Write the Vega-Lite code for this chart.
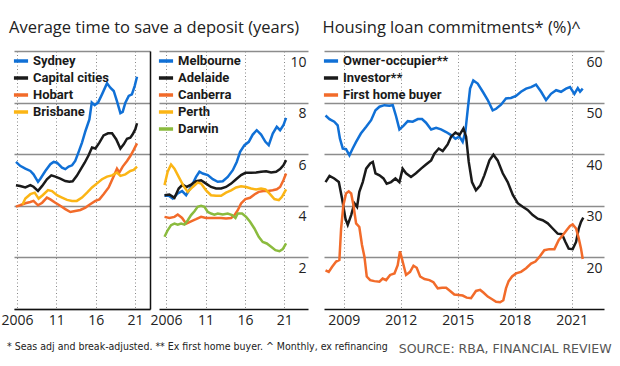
{
  "$schema": "https://vega.github.io/schema/vega-lite/v6.json",
  "padding": {"left": 0, "top": 19, "right": 5, "bottom": 5},
  "background": "white",
  "config": {
    "view": {"stroke": null},
    "font": "Open Sans",
    "axis": {"labelFont": "Open Sans", "labelColor": "#222", "labelFontSize": 14, "title": null},
    "legend": {
      "orient": "none", "legendX": -3, "legendY": 0, "padding": 1,
      "title": null, "symbolType": "stroke", "symbolSize": 200, "symbolStrokeWidth": 3.5,
      "labelFont": "Roboto", "labelFontWeight": "bold", "labelFontSize": 13, "labelColor": "#1a1a1a",
      "labelOffset": 3, "rowPadding": 1
    },
    "title": {"font": "Open Sans", "fontSize": 16.5, "fontWeight": "normal", "color": "#222", "anchor": "start"}
  },
  "title": {"text": "* Seas adj and break-adjusted. ** Ex first home buyer.  ^ Monthly, ex refinancing", "orient": "bottom", "anchor": "start", "font": "DejaVu Sans Condensed, Roboto", "fontSize": 10.5, "color": "#222", "offset": -13, "dx": 6},
  "datasets": {
    "p1": [
      {"s":"Sydney","t":2005.87,"v":5.70},{"s":"Sydney","t":2006.4,"v":5.55},{"s":"Sydney","t":2007.06,"v":5.44},{"s":"Sydney","t":2007.7,"v":5.35},{"s":"Sydney","t":2008.1,"v":5.22},{"s":"Sydney","t":2008.67,"v":4.93},{"s":"Sydney","t":2008.97,"v":5.05},{"s":"Sydney","t":2009.6,"v":5.35},{"s":"Sydney","t":2010.24,"v":5.61},{"s":"Sydney","t":2010.66,"v":5.70},{"s":"Sydney","t":2011.08,"v":5.67},{"s":"Sydney","t":2011.72,"v":5.48},{"s":"Sydney","t":2012.14,"v":5.42},{"s":"Sydney","t":2012.57,"v":5.52},{"s":"Sydney","t":2013.0,"v":5.57},{"s":"Sydney","t":2013.4,"v":5.74},{"s":"Sydney","t":2013.8,"v":6.06},{"s":"Sydney","t":2014.26,"v":6.45},{"s":"Sydney","t":2014.7,"v":6.90},{"s":"Sydney","t":2015.2,"v":7.35},{"s":"Sydney","t":2015.5,"v":8.0},{"s":"Sydney","t":2015.87,"v":7.90},{"s":"Sydney","t":2016.3,"v":8.0},{"s":"Sydney","t":2016.8,"v":8.32},{"s":"Sydney","t":2017.44,"v":8.75},{"s":"Sydney","t":2017.86,"v":8.58},{"s":"Sydney","t":2018.29,"v":8.45},{"s":"Sydney","t":2018.7,"v":8.06},{"s":"Sydney","t":2019.14,"v":7.59},{"s":"Sydney","t":2019.43,"v":7.64},{"s":"Sydney","t":2019.77,"v":8.0},{"s":"Sydney","t":2020.2,"v":8.26},{"s":"Sydney","t":2020.6,"v":8.32},{"s":"Sydney","t":2020.96,"v":8.65},{"s":"Sydney","t":2021.25,"v":9.0},
      {"s":"Capital cities","t":2005.87,"v":4.80},{"s":"Capital cities","t":2006.4,"v":4.77},{"s":"Capital cities","t":2007.06,"v":4.71},{"s":"Capital cities","t":2007.7,"v":4.80},{"s":"Capital cities","t":2008.1,"v":4.74},{"s":"Capital cities","t":2008.67,"v":4.58},{"s":"Capital cities","t":2009.2,"v":4.77},{"s":"Capital cities","t":2009.8,"v":5.03},{"s":"Capital cities","t":2010.36,"v":5.18},{"s":"Capital cities","t":2010.87,"v":5.13},{"s":"Capital cities","t":2011.5,"v":5.05},{"s":"Capital cities","t":2012.14,"v":4.96},{"s":"Capital cities","t":2012.65,"v":4.93},{"s":"Capital cities","t":2013.07,"v":4.95},{"s":"Capital cities","t":2013.6,"v":5.16},{"s":"Capital cities","t":2014.05,"v":5.39},{"s":"Capital cities","t":2014.6,"v":5.67},{"s":"Capital cities","t":2015.1,"v":5.96},{"s":"Capital cities","t":2015.53,"v":6.26},{"s":"Capital cities","t":2015.96,"v":6.22},{"s":"Capital cities","t":2016.47,"v":6.45},{"s":"Capital cities","t":2017.0,"v":6.73},{"s":"Capital cities","t":2017.57,"v":6.81},{"s":"Capital cities","t":2018.08,"v":6.81},{"s":"Capital cities","t":2018.6,"v":6.58},{"s":"Capital cities","t":2019.14,"v":6.22},{"s":"Capital cities","t":2019.56,"v":6.38},{"s":"Capital cities","t":2019.98,"v":6.60},{"s":"Capital cities","t":2020.4,"v":6.64},{"s":"Capital cities","t":2020.7,"v":6.77},{"s":"Capital cities","t":2021.04,"v":6.97},{"s":"Capital cities","t":2021.25,"v":7.20},
      {"s":"Hobart","t":2005.87,"v":3.97},{"s":"Hobart","t":2006.4,"v":4.02},{"s":"Hobart","t":2007.06,"v":4.10},{"s":"Hobart","t":2007.7,"v":4.15},{"s":"Hobart","t":2008.1,"v":4.19},{"s":"Hobart","t":2008.67,"v":4.02},{"s":"Hobart","t":2009.2,"v":4.12},{"s":"Hobart","t":2009.8,"v":4.32},{"s":"Hobart","t":2010.24,"v":4.25},{"s":"Hobart","t":2010.87,"v":4.12},{"s":"Hobart","t":2011.5,"v":4.0},{"s":"Hobart","t":2012.14,"v":3.87},{"s":"Hobart","t":2012.78,"v":3.76},{"s":"Hobart","t":2013.4,"v":3.80},{"s":"Hobart","t":2014.05,"v":3.84},{"s":"Hobart","t":2014.7,"v":3.93},{"s":"Hobart","t":2015.3,"v":4.06},{"s":"Hobart","t":2015.96,"v":4.19},{"s":"Hobart","t":2016.47,"v":4.25},{"s":"Hobart","t":2017.0,"v":4.45},{"s":"Hobart","t":2017.65,"v":4.71},{"s":"Hobart","t":2018.2,"v":5.09},{"s":"Hobart","t":2018.7,"v":5.44},{"s":"Hobart","t":2019.0,"v":5.29},{"s":"Hobart","t":2019.43,"v":5.52},{"s":"Hobart","t":2019.98,"v":5.74},{"s":"Hobart","t":2020.4,"v":5.93},{"s":"Hobart","t":2020.83,"v":6.17},{"s":"Hobart","t":2021.25,"v":6.42},
      {"s":"Brisbane","t":2006.7,"v":4.05},{"s":"Brisbane","t":2007.06,"v":4.28},{"s":"Brisbane","t":2007.7,"v":4.45},{"s":"Brisbane","t":2008.25,"v":4.51},{"s":"Brisbane","t":2008.75,"v":4.28},{"s":"Brisbane","t":2009.26,"v":4.41},{"s":"Brisbane","t":2009.94,"v":4.61},{"s":"Brisbane","t":2010.45,"v":4.57},{"s":"Brisbane","t":2011.08,"v":4.41},{"s":"Brisbane","t":2011.72,"v":4.32},{"s":"Brisbane","t":2012.36,"v":4.23},{"s":"Brisbane","t":2013.0,"v":4.19},{"s":"Brisbane","t":2013.6,"v":4.19},{"s":"Brisbane","t":2014.26,"v":4.32},{"s":"Brisbane","t":2014.9,"v":4.51},{"s":"Brisbane","t":2015.53,"v":4.71},{"s":"Brisbane","t":2016.17,"v":4.87},{"s":"Brisbane","t":2016.8,"v":5.03},{"s":"Brisbane","t":2017.44,"v":5.13},{"s":"Brisbane","t":2018.08,"v":5.18},{"s":"Brisbane","t":2018.7,"v":5.29},{"s":"Brisbane","t":2019.14,"v":5.16},{"s":"Brisbane","t":2019.77,"v":5.22},{"s":"Brisbane","t":2020.4,"v":5.35},{"s":"Brisbane","t":2020.83,"v":5.39},{"s":"Brisbane","t":2021.25,"v":5.52}
    ],
    "p2": [
      {"s":"Melbourne","t":2005.8,"v":4.39},{"s":"Melbourne","t":2006.34,"v":4.39},{"s":"Melbourne","t":2006.85,"v":4.28},{"s":"Melbourne","t":2007.48,"v":4.48},{"s":"Melbourne","t":2008.03,"v":4.57},{"s":"Melbourne","t":2008.54,"v":4.41},{"s":"Melbourne","t":2009.17,"v":4.73},{"s":"Melbourne","t":2009.8,"v":5.12},{"s":"Melbourne","t":2010.23,"v":5.32},{"s":"Melbourne","t":2010.65,"v":5.25},{"s":"Melbourne","t":2011.29,"v":5.19},{"s":"Melbourne","t":2011.92,"v":5.03},{"s":"Melbourne","t":2012.55,"v":4.93},{"s":"Melbourne","t":2013.19,"v":4.95},{"s":"Melbourne","t":2013.82,"v":5.12},{"s":"Melbourne","t":2014.46,"v":5.38},{"s":"Melbourne","t":2014.96,"v":5.70},{"s":"Melbourne","t":2015.39,"v":6.09},{"s":"Melbourne","t":2015.94,"v":6.35},{"s":"Melbourne","t":2016.49,"v":6.48},{"s":"Melbourne","t":2016.99,"v":6.76},{"s":"Melbourne","t":2017.5,"v":6.93},{"s":"Melbourne","t":2018.05,"v":6.76},{"s":"Melbourne","t":2018.6,"v":6.48},{"s":"Melbourne","t":2019.02,"v":6.35},{"s":"Melbourne","t":2019.53,"v":6.80},{"s":"Melbourne","t":2020.04,"v":7.06},{"s":"Melbourne","t":2020.46,"v":6.93},{"s":"Melbourne","t":2020.88,"v":7.12},{"s":"Melbourne","t":2021.22,"v":7.41},
      {"s":"Adelaide","t":2005.8,"v":4.41},{"s":"Adelaide","t":2006.42,"v":4.44},{"s":"Adelaide","t":2007.06,"v":4.31},{"s":"Adelaide","t":2007.6,"v":4.67},{"s":"Adelaide","t":2008.1,"v":4.82},{"s":"Adelaide","t":2008.6,"v":4.73},{"s":"Adelaide","t":2009.17,"v":4.82},{"s":"Adelaide","t":2009.8,"v":4.95},{"s":"Adelaide","t":2010.44,"v":4.99},{"s":"Adelaide","t":2011.07,"v":4.86},{"s":"Adelaide","t":2011.7,"v":4.73},{"s":"Adelaide","t":2012.34,"v":4.67},{"s":"Adelaide","t":2012.98,"v":4.67},{"s":"Adelaide","t":2013.6,"v":4.73},{"s":"Adelaide","t":2014.25,"v":4.86},{"s":"Adelaide","t":2014.88,"v":5.03},{"s":"Adelaide","t":2015.51,"v":5.19},{"s":"Adelaide","t":2016.06,"v":5.28},{"s":"Adelaide","t":2016.78,"v":5.28},{"s":"Adelaide","t":2017.42,"v":5.29},{"s":"Adelaide","t":2018.05,"v":5.32},{"s":"Adelaide","t":2018.69,"v":5.34},{"s":"Adelaide","t":2019.32,"v":5.29},{"s":"Adelaide","t":2019.95,"v":5.32},{"s":"Adelaide","t":2020.46,"v":5.42},{"s":"Adelaide","t":2020.88,"v":5.57},{"s":"Adelaide","t":2021.22,"v":5.77},
      {"s":"Canberra","t":2005.8,"v":3.57},{"s":"Canberra","t":2006.42,"v":3.53},{"s":"Canberra","t":2007.06,"v":3.57},{"s":"Canberra","t":2007.48,"v":3.66},{"s":"Canberra","t":2008.03,"v":3.53},{"s":"Canberra","t":2008.54,"v":3.31},{"s":"Canberra","t":2009.17,"v":3.40},{"s":"Canberra","t":2009.8,"v":3.48},{"s":"Canberra","t":2010.44,"v":3.57},{"s":"Canberra","t":2011.07,"v":3.53},{"s":"Canberra","t":2011.7,"v":3.53},{"s":"Canberra","t":2012.34,"v":3.53},{"s":"Canberra","t":2012.98,"v":3.53},{"s":"Canberra","t":2013.6,"v":3.51},{"s":"Canberra","t":2014.25,"v":3.53},{"s":"Canberra","t":2014.67,"v":3.64},{"s":"Canberra","t":2015.09,"v":3.83},{"s":"Canberra","t":2015.51,"v":4.09},{"s":"Canberra","t":2016.06,"v":4.26},{"s":"Canberra","t":2016.65,"v":4.31},{"s":"Canberra","t":2017.2,"v":4.44},{"s":"Canberra","t":2017.75,"v":4.54},{"s":"Canberra","t":2018.35,"v":4.57},{"s":"Canberra","t":2018.9,"v":4.57},{"s":"Canberra","t":2019.53,"v":4.60},{"s":"Canberra","t":2020.04,"v":4.64},{"s":"Canberra","t":2020.46,"v":4.73},{"s":"Canberra","t":2020.88,"v":4.99},{"s":"Canberra","t":2021.22,"v":5.25},
      {"s":"Perth","t":2005.8,"v":4.80},{"s":"Perth","t":2006.2,"v":5.32},{"s":"Perth","t":2006.63,"v":5.60},{"s":"Perth","t":2007.06,"v":5.44},{"s":"Perth","t":2007.6,"v":5.12},{"s":"Perth","t":2008.2,"v":4.77},{"s":"Perth","t":2008.75,"v":4.54},{"s":"Perth","t":2009.38,"v":4.73},{"s":"Perth","t":2010.0,"v":4.90},{"s":"Perth","t":2010.44,"v":4.86},{"s":"Perth","t":2011.07,"v":4.60},{"s":"Perth","t":2011.7,"v":4.41},{"s":"Perth","t":2012.34,"v":4.39},{"s":"Perth","t":2012.98,"v":4.39},{"s":"Perth","t":2013.6,"v":4.51},{"s":"Perth","t":2014.25,"v":4.60},{"s":"Perth","t":2014.88,"v":4.71},{"s":"Perth","t":2015.51,"v":4.76},{"s":"Perth","t":2016.15,"v":4.73},{"s":"Perth","t":2016.78,"v":4.67},{"s":"Perth","t":2017.42,"v":4.63},{"s":"Perth","t":2018.05,"v":4.67},{"s":"Perth","t":2018.6,"v":4.64},{"s":"Perth","t":2019.1,"v":4.48},{"s":"Perth","t":2019.74,"v":4.26},{"s":"Perth","t":2020.3,"v":4.22},{"s":"Perth","t":2020.7,"v":4.35},{"s":"Perth","t":2021.22,"v":4.64},
      {"s":"Darwin","t":2005.8,"v":2.80},{"s":"Darwin","t":2006.2,"v":3.05},{"s":"Darwin","t":2006.63,"v":3.25},{"s":"Darwin","t":2007.06,"v":3.31},{"s":"Darwin","t":2007.48,"v":3.27},{"s":"Darwin","t":2007.9,"v":3.31},{"s":"Darwin","t":2008.33,"v":3.27},{"s":"Darwin","t":2008.75,"v":3.44},{"s":"Darwin","t":2009.17,"v":3.64},{"s":"Darwin","t":2009.6,"v":3.79},{"s":"Darwin","t":2010.0,"v":3.96},{"s":"Darwin","t":2010.44,"v":4.0},{"s":"Darwin","t":2010.86,"v":3.96},{"s":"Darwin","t":2011.29,"v":3.76},{"s":"Darwin","t":2011.7,"v":3.70},{"s":"Darwin","t":2012.13,"v":3.66},{"s":"Darwin","t":2012.55,"v":3.70},{"s":"Darwin","t":2013.19,"v":3.66},{"s":"Darwin","t":2013.82,"v":3.70},{"s":"Darwin","t":2014.37,"v":3.64},{"s":"Darwin","t":2014.8,"v":3.53},{"s":"Darwin","t":2015.09,"v":3.70},{"s":"Darwin","t":2015.64,"v":3.70},{"s":"Darwin","t":2016.15,"v":3.57},{"s":"Darwin","t":2016.65,"v":3.38},{"s":"Darwin","t":2017.2,"v":3.12},{"s":"Darwin","t":2017.75,"v":2.80},{"s":"Darwin","t":2018.26,"v":2.60},{"s":"Darwin","t":2018.77,"v":2.54},{"s":"Darwin","t":2019.32,"v":2.41},{"s":"Darwin","t":2019.87,"v":2.28},{"s":"Darwin","t":2020.38,"v":2.24},{"s":"Darwin","t":2020.8,"v":2.32},{"s":"Darwin","t":2021.22,"v":2.54}
    ],
    "p3": [
      {"s":"Owner-occupier**","t":2008.04,"v":47.5},{"s":"Owner-occupier**","t":2008.25,"v":46.8},{"s":"Owner-occupier**","t":2008.5,"v":46.3},{"s":"Owner-occupier**","t":2008.68,"v":45.6},{"s":"Owner-occupier**","t":2008.8,"v":43.0},{"s":"Owner-occupier**","t":2008.95,"v":41.1},{"s":"Owner-occupier**","t":2009.12,"v":41.0},{"s":"Owner-occupier**","t":2009.3,"v":39.8},{"s":"Owner-occupier**","t":2009.47,"v":41.1},{"s":"Owner-occupier**","t":2009.65,"v":42.4},{"s":"Owner-occupier**","t":2009.9,"v":44.0},{"s":"Owner-occupier**","t":2010.18,"v":45.3},{"s":"Owner-occupier**","t":2010.44,"v":46.6},{"s":"Owner-occupier**","t":2010.67,"v":48.5},{"s":"Owner-occupier**","t":2010.88,"v":49.2},{"s":"Owner-occupier**","t":2011.14,"v":49.5},{"s":"Owner-occupier**","t":2011.4,"v":49.4},{"s":"Owner-occupier**","t":2011.58,"v":49.5},{"s":"Owner-occupier**","t":2011.75,"v":47.4},{"s":"Owner-occupier**","t":2011.93,"v":44.8},{"s":"Owner-occupier**","t":2012.14,"v":45.5},{"s":"Owner-occupier**","t":2012.37,"v":46.4},{"s":"Owner-occupier**","t":2012.63,"v":46.3},{"s":"Owner-occupier**","t":2012.9,"v":46.8},{"s":"Owner-occupier**","t":2013.12,"v":46.8},{"s":"Owner-occupier**","t":2013.33,"v":46.1},{"s":"Owner-occupier**","t":2013.6,"v":44.8},{"s":"Owner-occupier**","t":2013.86,"v":45.1},{"s":"Owner-occupier**","t":2014.12,"v":44.8},{"s":"Owner-occupier**","t":2014.39,"v":44.3},{"s":"Owner-occupier**","t":2014.65,"v":43.7},{"s":"Owner-occupier**","t":2014.88,"v":43.0},{"s":"Owner-occupier**","t":2015.09,"v":43.4},{"s":"Owner-occupier**","t":2015.26,"v":42.4},{"s":"Owner-occupier**","t":2015.4,"v":44.3},{"s":"Owner-occupier**","t":2015.53,"v":48.8},{"s":"Owner-occupier**","t":2015.65,"v":52.7},{"s":"Owner-occupier**","t":2015.82,"v":54.3},{"s":"Owner-occupier**","t":2016.05,"v":53.7},{"s":"Owner-occupier**","t":2016.32,"v":52.1},{"s":"Owner-occupier**","t":2016.58,"v":50.5},{"s":"Owner-occupier**","t":2016.84,"v":48.5},{"s":"Owner-occupier**","t":2017.02,"v":48.8},{"s":"Owner-occupier**","t":2017.28,"v":49.6},{"s":"Owner-occupier**","t":2017.54,"v":50.8},{"s":"Owner-occupier**","t":2017.8,"v":50.9},{"s":"Owner-occupier**","t":2018.07,"v":51.3},{"s":"Owner-occupier**","t":2018.33,"v":52.1},{"s":"Owner-occupier**","t":2018.6,"v":52.7},{"s":"Owner-occupier**","t":2018.86,"v":53.0},{"s":"Owner-occupier**","t":2019.12,"v":53.5},{"s":"Owner-occupier**","t":2019.39,"v":52.1},{"s":"Owner-occupier**","t":2019.65,"v":50.5},{"s":"Owner-occupier**","t":2019.91,"v":51.7},{"s":"Owner-occupier**","t":2020.18,"v":52.4},{"s":"Owner-occupier**","t":2020.44,"v":52.1},{"s":"Owner-occupier**","t":2020.7,"v":52.7},{"s":"Owner-occupier**","t":2020.91,"v":53.0},{"s":"Owner-occupier**","t":2021.14,"v":51.7},{"s":"Owner-occupier**","t":2021.32,"v":52.8},{"s":"Owner-occupier**","t":2021.44,"v":52.1},{"s":"Owner-occupier**","t":2021.58,"v":52.7},
      {"s":"Investor**","t":2008.04,"v":34.6},{"s":"Investor**","t":2008.25,"v":35.8},{"s":"Investor**","t":2008.5,"v":35.3},{"s":"Investor**","t":2008.74,"v":34.6},{"s":"Investor**","t":2008.91,"v":31.4},{"s":"Investor**","t":2009.09,"v":27.5},{"s":"Investor**","t":2009.21,"v":26.3},{"s":"Investor**","t":2009.39,"v":28.2},{"s":"Investor**","t":2009.56,"v":30.5},{"s":"Investor**","t":2009.7,"v":29.8},{"s":"Investor**","t":2009.82,"v":32.7},{"s":"Investor**","t":2010.0,"v":34.6},{"s":"Investor**","t":2010.18,"v":37.2},{"s":"Investor**","t":2010.39,"v":38.2},{"s":"Investor**","t":2010.53,"v":38.5},{"s":"Investor**","t":2010.67,"v":36.3},{"s":"Investor**","t":2010.88,"v":35.9},{"s":"Investor**","t":2011.09,"v":35.3},{"s":"Investor**","t":2011.26,"v":34.3},{"s":"Investor**","t":2011.49,"v":34.6},{"s":"Investor**","t":2011.72,"v":35.3},{"s":"Investor**","t":2011.93,"v":34.6},{"s":"Investor**","t":2012.1,"v":37.2},{"s":"Investor**","t":2012.28,"v":36.3},{"s":"Investor**","t":2012.54,"v":35.6},{"s":"Investor**","t":2012.8,"v":36.3},{"s":"Investor**","t":2013.07,"v":37.2},{"s":"Investor**","t":2013.33,"v":38.0},{"s":"Investor**","t":2013.6,"v":38.8},{"s":"Investor**","t":2013.77,"v":40.1},{"s":"Investor**","t":2014.0,"v":41.1},{"s":"Investor**","t":2014.21,"v":40.6},{"s":"Investor**","t":2014.47,"v":41.9},{"s":"Investor**","t":2014.65,"v":43.4},{"s":"Investor**","t":2014.88,"v":44.2},{"s":"Investor**","t":2015.09,"v":43.7},{"s":"Investor**","t":2015.3,"v":45.0},{"s":"Investor**","t":2015.44,"v":43.4},{"s":"Investor**","t":2015.58,"v":38.5},{"s":"Investor**","t":2015.75,"v":34.6},{"s":"Investor**","t":2015.96,"v":33.0},{"s":"Investor**","t":2016.18,"v":33.9},{"s":"Investor**","t":2016.4,"v":35.9},{"s":"Investor**","t":2016.67,"v":38.8},{"s":"Investor**","t":2016.88,"v":39.9},{"s":"Investor**","t":2017.1,"v":38.8},{"s":"Investor**","t":2017.37,"v":36.3},{"s":"Investor**","t":2017.63,"v":34.6},{"s":"Investor**","t":2017.9,"v":32.1},{"s":"Investor**","t":2018.16,"v":30.5},{"s":"Investor**","t":2018.42,"v":29.8},{"s":"Investor**","t":2018.68,"v":29.2},{"s":"Investor**","t":2018.95,"v":28.2},{"s":"Investor**","t":2019.21,"v":27.5},{"s":"Investor**","t":2019.47,"v":27.2},{"s":"Investor**","t":2019.74,"v":26.6},{"s":"Investor**","t":2020.0,"v":25.6},{"s":"Investor**","t":2020.26,"v":24.6},{"s":"Investor**","t":2020.49,"v":24.5},{"s":"Investor**","t":2020.67,"v":23.0},{"s":"Investor**","t":2020.84,"v":21.7},{"s":"Investor**","t":2021.05,"v":21.6},{"s":"Investor**","t":2021.23,"v":23.0},{"s":"Investor**","t":2021.37,"v":25.6},{"s":"Investor**","t":2021.49,"v":26.9},{"s":"Investor**","t":2021.61,"v":27.7},
      {"s":"First home buyer","t":2008.04,"v":17.5},{"s":"First home buyer","t":2008.21,"v":17.2},{"s":"First home buyer","t":2008.39,"v":18.2},{"s":"First home buyer","t":2008.6,"v":19.2},{"s":"First home buyer","t":2008.77,"v":19.5},{"s":"First home buyer","t":2008.86,"v":25.6},{"s":"First home buyer","t":2008.98,"v":30.1},{"s":"First home buyer","t":2009.12,"v":32.4},{"s":"First home buyer","t":2009.26,"v":32.8},{"s":"First home buyer","t":2009.39,"v":32.4},{"s":"First home buyer","t":2009.51,"v":30.1},{"s":"First home buyer","t":2009.65,"v":26.6},{"s":"First home buyer","t":2009.82,"v":25.9},{"s":"First home buyer","t":2009.96,"v":22.4},{"s":"First home buyer","t":2010.09,"v":20.1},{"s":"First home buyer","t":2010.21,"v":16.3},{"s":"First home buyer","t":2010.39,"v":15.6},{"s":"First home buyer","t":2010.61,"v":15.4},{"s":"First home buyer","t":2010.88,"v":15.3},{"s":"First home buyer","t":2011.05,"v":15.9},{"s":"First home buyer","t":2011.23,"v":15.6},{"s":"First home buyer","t":2011.44,"v":16.6},{"s":"First home buyer","t":2011.67,"v":16.9},{"s":"First home buyer","t":2011.84,"v":18.5},{"s":"First home buyer","t":2011.96,"v":21.2},{"s":"First home buyer","t":2012.1,"v":19.2},{"s":"First home buyer","t":2012.28,"v":16.6},{"s":"First home buyer","t":2012.49,"v":17.2},{"s":"First home buyer","t":2012.67,"v":18.4},{"s":"First home buyer","t":2012.84,"v":18.0},{"s":"First home buyer","t":2013.02,"v":16.3},{"s":"First home buyer","t":2013.25,"v":15.8},{"s":"First home buyer","t":2013.51,"v":15.6},{"s":"First home buyer","t":2013.72,"v":15.2},{"s":"First home buyer","t":2013.95,"v":14.0},{"s":"First home buyer","t":2014.18,"v":14.1},{"s":"First home buyer","t":2014.39,"v":14.1},{"s":"First home buyer","t":2014.6,"v":13.5},{"s":"First home buyer","t":2014.82,"v":12.8},{"s":"First home buyer","t":2015.05,"v":12.7},{"s":"First home buyer","t":2015.26,"v":12.6},{"s":"First home buyer","t":2015.47,"v":12.2},{"s":"First home buyer","t":2015.7,"v":12.1},{"s":"First home buyer","t":2015.96,"v":13.5},{"s":"First home buyer","t":2016.18,"v":13.7},{"s":"First home buyer","t":2016.35,"v":13.2},{"s":"First home buyer","t":2016.58,"v":12.4},{"s":"First home buyer","t":2016.81,"v":11.9},{"s":"First home buyer","t":2017.02,"v":11.4},{"s":"First home buyer","t":2017.23,"v":11.3},{"s":"First home buyer","t":2017.4,"v":11.7},{"s":"First home buyer","t":2017.54,"v":14.0},{"s":"First home buyer","t":2017.68,"v":15.4},{"s":"First home buyer","t":2017.86,"v":16.3},{"s":"First home buyer","t":2018.07,"v":16.9},{"s":"First home buyer","t":2018.33,"v":17.2},{"s":"First home buyer","t":2018.6,"v":17.9},{"s":"First home buyer","t":2018.86,"v":18.8},{"s":"First home buyer","t":2019.09,"v":19.2},{"s":"First home buyer","t":2019.3,"v":20.1},{"s":"First home buyer","t":2019.56,"v":21.4},{"s":"First home buyer","t":2019.82,"v":21.6},{"s":"First home buyer","t":2020.09,"v":21.6},{"s":"First home buyer","t":2020.32,"v":23.4},{"s":"First home buyer","t":2020.53,"v":24.3},{"s":"First home buyer","t":2020.74,"v":25.3},{"s":"First home buyer","t":2020.91,"v":26.1},{"s":"First home buyer","t":2021.05,"v":26.4},{"s":"First home buyer","t":2021.23,"v":25.6},{"s":"First home buyer","t":2021.37,"v":23.7},{"s":"First home buyer","t":2021.49,"v":21.7},{"s":"First home buyer","t":2021.58,"v":19.7}
    ]
  },
  "spacing": 12,
  "resolve": {"scale": {"color": "independent"}},
  "hconcat": [
    {
      "title": {"text": "Average time to save a deposit (years)", "offset": 15, "dx": 8},
      "spacing": 0,
      "resolve": {"scale": {"color": "independent"}},
      "hconcat": [
        {
          "width": 136, "height": 258,
          "data": {"name": "p1"},
          "mark": {"type": "line", "strokeWidth": 2.5},
          "encoding": {
            "x": {"field": "t", "type": "quantitative", "scale": {"domain": [2005.62, 2022.9], "nice": false, "zero": false},
              "axis": {"values": [2006, 2011, 2016, 2021], "format": "d", "labelExpr": "datum.value == 2006 ? datum.label : substring(datum.label, 2)", "domainColor": "#111", "domainWidth": 1.5, "ticks": false, "labelPadding": 4, "grid": true, "gridColor": "#888", "gridDash": [1, 2.5], "gridWidth": 1, "labelFlush": false}},
            "y": {"field": "v", "type": "quantitative", "scale": {"domain": [0, 10], "nice": false},
              "axis": {"orient": "right", "values": [0, 2, 4, 6, 8, 10], "labels": false, "ticks": false, "domain": true, "domainColor": "#111", "domainWidth": 1.5, "grid": true, "gridColor": "#8c8c8c", "gridWidth": 1.5}},
            "color": {"field": "s", "type": "nominal", "sort": ["Sydney", "Capital cities", "Hobart", "Brisbane"],
              "scale": {"domain": ["Sydney", "Capital cities", "Hobart", "Brisbane"], "range": ["#1070d6", "#1a1a1a", "#f26b2a", "#fbb515"]}}
          }
        },
        {
          "width": 149, "height": 258,
          "data": {"name": "p2"},
          "mark": {"type": "line", "strokeWidth": 2.5},
          "encoding": {
            "x": {"field": "t", "type": "quantitative", "scale": {"domain": [2005.1, 2024.0], "nice": false, "zero": false},
              "axis": {"values": [2006, 2011, 2016, 2021], "format": "d", "labelExpr": "datum.value == 2006 ? datum.label : substring(datum.label, 2)", "domainColor": "#111", "domainWidth": 1.5, "ticks": false, "labelPadding": 4, "grid": true, "gridColor": "#888", "gridDash": [1, 2.5], "gridWidth": 1, "labelFlush": false}},
            "y": {"field": "v", "type": "quantitative", "scale": {"domain": [0, 10], "nice": false},
              "axis": {"orient": "right", "values": [2, 4, 6, 8, 10], "ticks": false, "domain": false, "grid": true, "gridColor": "#8c8c8c", "gridWidth": 1.5, "labelAlign": "right", "labelBaseline": "top", "labelPadding": -2, "labelOffset": 4}},
            "color": {"field": "s", "type": "nominal", "sort": ["Melbourne", "Adelaide", "Canberra", "Perth", "Darwin"],
              "scale": {"domain": ["Melbourne", "Adelaide", "Canberra", "Perth", "Darwin"], "range": ["#1070d6", "#1a1a1a", "#f26b2a", "#fbb515", "#8bbb3e"]}}
          }
        }
      ]
    },
    {
      "title": {"text": "Housing loan commitments* (%)^", "offset": 15, "dx": 2},
      "width": 280, "height": 258,
      "data": {"name": "p3"},
      "mark": {"type": "line", "strokeWidth": 2.5},
      "encoding": {
        "x": {"field": "t", "type": "quantitative", "scale": {"domain": [2007.96, 2022.7], "nice": false, "zero": false},
          "axis": {"values": [2009, 2012, 2015, 2018, 2021], "format": "d", "domainColor": "#111", "domainWidth": 1.5, "ticks": false, "labelPadding": 4, "grid": true, "gridColor": "#888", "gridDash": [1, 2.5], "gridWidth": 1, "labelFlush": false,
            "title": "SOURCE: RBA, FINANCIAL REVIEW", "titleFont": "DejaVu Sans", "titleFontSize": 12.5, "titleFontWeight": "normal", "titleColor": "#555", "titleAlign": "right", "titlePadding": 15, "titleX": 287}},
        "y": {"field": "v", "type": "quantitative", "scale": {"domain": [10, 60], "nice": false},
          "axis": {"orient": "right", "values": [20, 30, 40, 50, 60], "ticks": false, "domain": false, "grid": true, "gridColor": "#8c8c8c", "gridWidth": 1.5, "labelAlign": "right", "labelBaseline": "top", "labelPadding": -2, "labelOffset": 4}},
        "color": {"field": "s", "type": "nominal", "sort": ["Owner-occupier**", "Investor**", "First home buyer"],
          "scale": {"domain": ["Owner-occupier**", "Investor**", "First home buyer"], "range": ["#1070d6", "#1a1a1a", "#f26b2a"]}}
      }
    }
  ]
}
